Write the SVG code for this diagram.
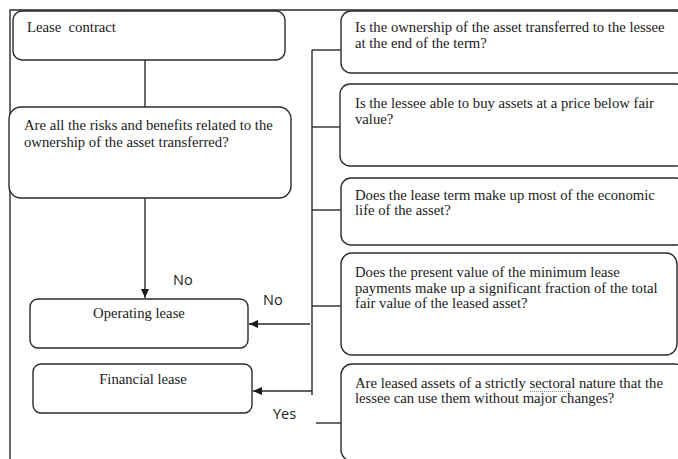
<svg xmlns="http://www.w3.org/2000/svg" width="678" height="459" viewBox="0 0 678 459">
<style>
.box{fill:#fff;stroke:#2b2b2b;stroke-width:1.4}
.t{font-family:"Liberation Serif","Times New Roman",serif;font-size:14.7px;fill:#1a1a1a}
.c{text-anchor:middle}
.lbl{font-family:"Open Sans","Liberation Sans",sans-serif;font-size:14.5px;fill:#1a1a1a}
.ln{fill:none;stroke:#2b2b2b;stroke-width:1.4}
</style>
<defs>
<marker id="ah" markerWidth="10" markerHeight="10" refX="9" refY="5" orient="auto" markerUnits="userSpaceOnUse">
<path d="M0,1 L9,5 L0,9 Z" fill="#1a1a1a"/>
</marker>
</defs>
<rect width="678" height="459" fill="#fff"/>
<g id="frame">
<path class="ln" d="M10,459 L10,10 L678,10"/>
</g>
<g id="connectors">
<path class="ln" d="M145,60 L145,107"/>
<path class="ln" d="M145,198 L145,298" marker-end="url(#ah)"/>
<path class="ln" d="M312,50 L312,395"/>
<path class="ln" d="M312,50 L341,50"/>
<path class="ln" d="M312,127 L341,127"/>
<path class="ln" d="M312,210 L341,210"/>
<path class="ln" d="M312,306 L341,306"/>
<path class="ln" d="M310,324 L249,324" marker-end="url(#ah)"/>
<path class="ln" d="M312,391 L253,391" marker-end="url(#ah)"/>
<path class="ln" d="M316,423 L341,423"/>
</g>
<g id="lease-contract">
<rect class="box" x="13" y="11" width="272" height="49" rx="9"/>
<text class="t" x="27" y="32" xml:space="preserve">Lease  contract</text>
</g>
<g id="risks-question">
<rect class="box" x="9" y="107" width="282" height="91" rx="12"/>
<text class="t" x="24" y="130">Are all the risks and benefits related to the</text>
<text class="t" x="24" y="147">ownership of the asset transferred?</text>
</g>
<g id="operating-lease">
<rect class="box" x="30" y="299" width="218" height="49" rx="8"/>
<text class="t c" x="139" y="318">Operating lease</text>
</g>
<g id="financial-lease">
<rect class="box" x="33" y="364" width="219" height="49" rx="8"/>
<text class="t c" x="143" y="384">Financial lease</text>
</g>
<g id="q-ownership">
<rect class="box" x="341" y="11" width="345" height="62" rx="10"/>
<text class="t" x="355" y="32">Is the ownership of the asset transferred to the lessee</text>
<text class="t" x="355" y="48">at the end of the term?</text>
</g>
<g id="q-buy-below">
<rect class="box" x="340" y="84" width="346" height="82" rx="10"/>
<text class="t" x="355" y="108">Is the lessee able to buy assets at a price below fair</text>
<text class="t" x="355" y="124">value?</text>
</g>
<g id="q-lease-term">
<rect class="box" x="341" y="178" width="345" height="67" rx="10"/>
<text class="t" x="355" y="200">Does the lease term make up most of the economic</text>
<text class="t" x="355" y="215">life of the asset?</text>
</g>
<g id="q-present-value">
<rect class="box" x="341" y="253" width="336" height="102" rx="11"/>
<text class="t" x="355" y="277">Does the present value of the minimum lease</text>
<text class="t" x="355" y="293">payments make up a significant fraction of the total</text>
<text class="t" x="355" y="308">fair value of the leased asset?</text>
</g>
<g id="q-sectoral">
<rect class="box" x="341" y="364" width="345" height="97" rx="11"/>
<text class="t" x="355" y="388">Are leased assets of a strictly sectoral nature that the</text>
<text class="t" x="355" y="403">lessee can use them without major changes?</text>
<path d="M530,391.5 L572,391.5" stroke="#8a8aa8" stroke-width="1" stroke-dasharray="1,1"/>
</g>
<g id="labels">
<text class="lbl" x="173" y="285">No</text>
<text class="lbl" x="263" y="305">No</text>
<text class="lbl" x="273" y="419">Yes</text>
</g>
</svg>
